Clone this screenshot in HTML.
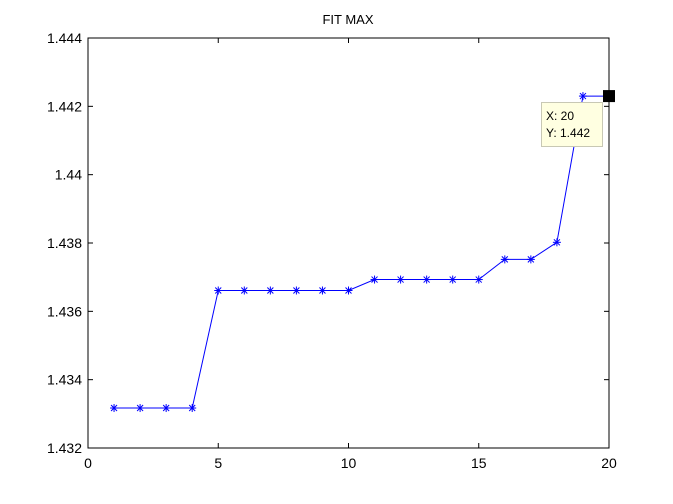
<!DOCTYPE html>
<html><head><style>
body{margin:0;background:#fff;}
svg{display:block;font-family:"Liberation Sans",Arial,sans-serif;}
</style></head><body>
<svg id="c" width="673" height="504">
<rect x="0" y="0" width="673" height="504" fill="#fff"/>
<text x="348" y="24" font-size="13" text-anchor="middle">FIT MAX</text>
<rect x="88" y="38" width="521" height="410" fill="#fff" stroke="#000" stroke-width="1"/>
<g id="ticks"></g>
<g id="series"></g>
<g id="tip"></g>
</svg>
<script>
const xs=[1,2,3,4,5,6,7,8,9,10,11,12,13,14,15,16,17,18,19,20];
const ys=[1.43317,1.43317,1.43317,1.43317,1.43661,1.43661,1.43661,1.43661,1.43661,1.43661,1.43693,1.43693,1.43693,1.43693,1.43693,1.43752,1.43752,1.43802,1.44230,1.44230];
const xTicks=[0,5,10,15,20];
const yTicks=[1.432,1.434,1.436,1.438,1.44,1.442,1.444];
const yTickLabels=["1.432","1.434","1.436","1.438","1.44","1.442","1.444"];
const X0=88,X1=609,Y0=448,Y1=38;
const sx=v=>X0+(v-0)/(20-0)*(X1-X0);
const sy=v=>Y0-(v-1.432)/(1.444-1.432)*(Y0-Y1);
const NS="http://www.w3.org/2000/svg";
function mk(t,a,p){const e=document.createElementNS(NS,t);for(const k in a)e.setAttribute(k,a[k]);p.appendChild(e);return e;}
const tg=document.getElementById('ticks');
xTicks.forEach(v=>{const x=sx(v);
mk('line',{x1:x,x2:x,y1:Y0,y2:Y0-5,stroke:'#000'},tg);
mk('line',{x1:x,x2:x,y1:Y1,y2:Y1+5,stroke:'#000'},tg);
const t=mk('text',{x:x,y:468,'font-size':14,'text-anchor':'middle'},tg);t.textContent=v;

});
yTicks.forEach((v,i)=>{const y=sy(v);
mk('line',{x1:X0,x2:X0+5,y1:y,y2:y,stroke:'#000'},tg);
mk('line',{x1:X1,x2:X1-5,y1:y,y2:y,stroke:'#000'},tg);
const t=mk('text',{x:82,y:y+5,'font-size':14,'text-anchor':'end'},tg);t.textContent=yTickLabels[i];

});
const sg=document.getElementById('series');
const pl=mk('polyline',{points:xs.map((x,i)=>sx(x)+','+sy(ys[i])).join(' '),fill:'none',stroke:'#0000ff','stroke-width':1},sg);


xs.forEach((x,i)=>{const cx=sx(x),cy=sy(ys[i]);
const g=mk('g',{stroke:'#0000ff','stroke-width':1},sg);


mk('line',{x1:cx-4,x2:cx+4,y1:cy,y2:cy},g);
mk('line',{x1:cx,x2:cx,y1:cy-4,y2:cy+4},g);
mk('line',{x1:cx-3,x2:cx+3,y1:cy-3,y2:cy+3},g);
mk('line',{x1:cx-3,x2:cx+3,y1:cy+3,y2:cy-3},g);});
const tp=document.getElementById('tip');
const lx=sx(xs[19]),ly=sy(ys[19]);
const sq=mk('rect',{x:lx-6,y:ly-6,width:12,height:12,fill:'#000'},tp);


const bx=mk('rect',{x:541.5,y:102.5,width:61,height:44,fill:'#ffffe1',stroke:'#c8c8b4'},tp);


const t1=mk('text',{x:546,y:120,'font-size':12},tp);t1.textContent='X: '+xs[19];


const t2=mk('text',{x:546,y:137,'font-size':12},tp);t2.textContent='Y: '+ys[19].toFixed(3);


</script>
</body></html>
